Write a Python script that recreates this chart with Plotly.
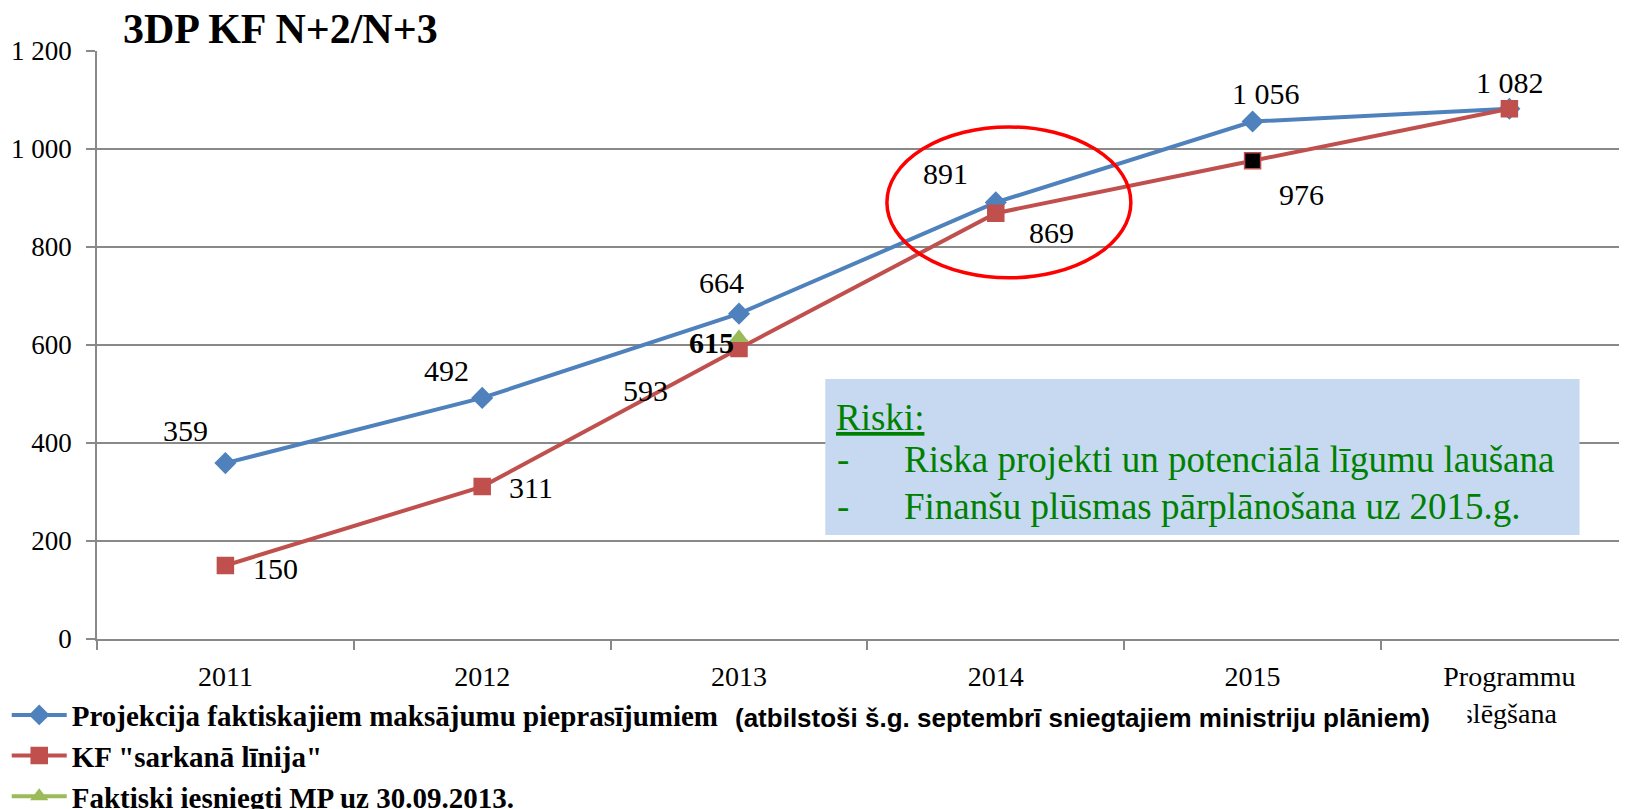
import plotly.graph_objects as go

categories = ["2011", "2012", "2013", "2014", "2015", "Programmu<br>slēgšana"]
projekcija = [359, 492, 664, 891, 1056, 1082]
sarkana = [150, 311, 593, 869, 976, 1082]
faktiski = [None, None, 615, None, None, None]
y_ticks = [0, 200, 400, 600, 800, 1000, 1200]

names = ["Projekcija faktiskajiem maksājumu pieprasījumiem",
         "KF \"sarkanā līnija\"",
         "Faktiski iesniegti MP uz 30.09.2013."]

BLUE, RED, GREEN = "#4F81BD", "#C0504D", "#9BBB59"
GRID = "#898989"
SERIF = "Liberation Serif"

def fmt(v):
    return f"{v:,}".replace(",", " ")

fig = go.Figure()
fig.add_trace(go.Scatter(x=categories, y=projekcija, name=names[0], mode="lines+markers",
                         line=dict(color=BLUE, width=4),
                         marker=dict(symbol="diamond", size=17, color=BLUE)))
red_fill = [RED, RED, RED, RED, "#000000", RED]
fig.add_trace(go.Scatter(x=categories, y=sarkana, name=names[1], mode="lines+markers",
                         line=dict(color=RED, width=4),
                         marker=dict(symbol="square", size=16, color=red_fill,
                                     line=dict(color=RED, width=1.5))))
fig.add_trace(go.Scatter(x=categories, y=faktiski, name=names[2], mode="lines+markers",
                         line=dict(color=GREEN, width=4),
                         marker=dict(symbol="triangle-up", size=17, color=GREEN)))

# data labels (offsets in px: dx right, dy down)
blue_off = [(-40, -33), (-36, -27), (-17, -31), (-50, -29), (13, -28), (1, -26)]
red_off = [(50, 3), (49, 1), (-93, 42), (56, 19), (49, 34), None]
green_off = [None, None, (-27, 5), None, None, None]

anns = []
for series, offs, bold in ((projekcija, blue_off, False), (sarkana, red_off, False), (faktiski, green_off, True)):
    for i, (v, o) in enumerate(zip(series, offs)):
        if v is None or o is None:
            continue
        anns.append(dict(x=i, y=v, xref="x", yref="y", text=fmt(v), showarrow=False,
                         xshift=o[0], yshift=-o[1],
                         font=dict(family=SERIF, size=30, color="black",
                                   weight="bold" if bold else "normal")))

# title
anns.append(dict(x=0.016, y=1.037, xref="paper", yref="paper", xanchor="left", yanchor="middle",
                 text="<b>3DP KF N+2/N+3</b>", showarrow=False,
                 font=dict(family=SERIF, size=42, color="black")))

# risk box text
GREEN_TXT = "#008000"
anns.append(dict(x=0.4819, y=0.376, xref="paper", yref="paper", xanchor="left", yanchor="middle",
                 text="<u>Riski:</u>", showarrow=False,
                 font=dict(family=SERIF, size=37, color=GREEN_TXT)))
for ypos, txt in ((0.305, "Riska projekti un potenciālā līgumu laušana"),
                  (0.225, "Finanšu plūsmas pārplānošana uz 2015.g.")):
    anns.append(dict(x=0.4824, y=ypos, xref="paper", yref="paper", xanchor="left", yanchor="middle",
                     text="-", showarrow=False, font=dict(family=SERIF, size=37, color=GREEN_TXT)))
    anns.append(dict(x=0.5262, y=ypos, xref="paper", yref="paper", xanchor="left", yanchor="middle",
                     text=txt, showarrow=False, font=dict(family=SERIF, size=37, color=GREEN_TXT)))

# note next to legend (white box slightly overlaps the last category label, as in the original)
anns.append(dict(x=0.416, y=-0.135, xref="paper", yref="paper", xanchor="left", yanchor="middle",
                 text="<b>(atbilstoši š.g. septembrī sniegtajiem ministriju plāniem)</b>"
                      + "&nbsp;" * 5,
                 showarrow=False, bgcolor="white", borderpad=1,
                 font=dict(family="Liberation Sans", size=26, color="black")))

shapes = [
    # risk box
    dict(type="rect", xref="paper", yref="paper", x0=0.476, x1=0.969, y0=0.177, y1=0.442,
         fillcolor="#C6D9F1", line=dict(width=0), layer="above"),
    # red ellipse around 2014
    dict(type="circle", xref="x", yref="y", x0=2.576, x1=3.526, y0=737, y1=1045,
         line=dict(color="#FF0000", width=3.5), fillcolor="rgba(0,0,0,0)"),
]

fig.update_layout(
    width=1619, height=801, autosize=False,
    margin=dict(l=89, r=0, t=43, b=170, autoexpand=False),
    paper_bgcolor="white", plot_bgcolor="white",
    font=dict(family=SERIF, size=27, color="black"),
    annotations=anns, shapes=shapes,
    showlegend=True,
    legend=dict(x=-0.059, y=-0.086, xanchor="left", yanchor="top", orientation="v",
                bgcolor="rgba(0,0,0,0)", itemwidth=55, tracegroupgap=0,
                font=dict(family=SERIF, size=29, color="black", weight="bold")),
    xaxis=dict(type="category", range=[-0.5, 5.458], tickson="boundaries",
               ticks="outside", ticklen=9, tickcolor=GRID, tickwidth=1.5,
               showline=True, linecolor=GRID, linewidth=1.5, showgrid=False,
               tickfont=dict(family=SERIF, size=28, color="black"), ticklabelstandoff=12),
    yaxis=dict(range=[0, 1200], tickvals=y_ticks, ticktext=[fmt(v) for v in y_ticks],
               ticks="outside", ticklen=9, tickcolor=GRID, tickwidth=1.5,
               showline=True, linecolor=GRID, linewidth=1.5,
               showgrid=True, gridcolor=GRID, gridwidth=1.5, zeroline=False,
               tickfont=dict(family=SERIF, size=27, color="black"), ticklabelstandoff=9),
)

fig.write_html("out.html")
